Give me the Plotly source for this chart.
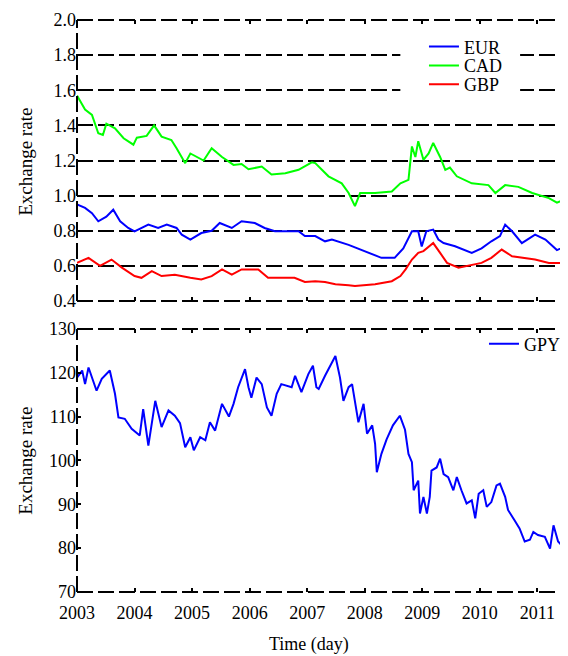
import plotly.graph_objects as go

# ---- data ----
cad_t = [2003.0, 2003.14, 2003.26, 2003.37, 2003.45, 2003.51, 2003.66, 2003.81, 2003.98, 2004.04,
         2004.21, 2004.34, 2004.47, 2004.64, 2004.73, 2004.88, 2004.97, 2005.20, 2005.34, 2005.52,
         2005.72, 2005.86, 2005.98, 2006.21, 2006.38, 2006.62, 2006.85, 2007.08, 2007.14, 2007.31,
         2007.37, 2007.60, 2007.72, 2007.83, 2007.92, 2008.18, 2008.47, 2008.62, 2008.76, 2008.82,
         2008.88, 2008.93, 2009.02, 2009.11, 2009.19, 2009.31, 2009.40, 2009.48, 2009.60, 2009.86,
         2010.15, 2010.27, 2010.44, 2010.67, 2010.91, 2011.20, 2011.34, 2011.48]
cad_v = [1.57, 1.49, 1.46, 1.355, 1.345, 1.41, 1.383, 1.327, 1.29, 1.33,
         1.34, 1.40, 1.336, 1.317, 1.27, 1.185, 1.24, 1.20, 1.27, 1.22,
         1.175, 1.18, 1.15, 1.166, 1.12, 1.128, 1.147, 1.19, 1.185, 1.128,
         1.11, 1.07, 1.015, 0.94, 1.015, 1.015, 1.024, 1.07, 1.09, 1.28,
         1.22, 1.31, 1.204, 1.24, 1.30, 1.22, 1.147, 1.16, 1.11, 1.07,
         1.06, 1.015, 1.06, 1.05, 1.015, 0.986, 0.96, 0.98]

eur_t = [2003.0, 2003.14, 2003.26, 2003.37, 2003.51, 2003.63, 2003.75, 2003.89, 2004.0, 2004.24,
         2004.41, 2004.56, 2004.73, 2004.82, 2004.97, 2005.16, 2005.34, 2005.48, 2005.69, 2005.86,
         2006.09, 2006.26, 2006.44, 2006.67, 2006.85, 2006.96, 2007.14, 2007.31, 2007.43, 2007.72,
         2008.0, 2008.29, 2008.52, 2008.67, 2008.82, 2008.93, 2008.99, 2009.07, 2009.19, 2009.28,
         2009.37, 2009.57, 2009.86, 2010.03, 2010.20, 2010.35, 2010.44, 2010.56, 2010.73, 2010.96,
         2011.14, 2011.34, 2011.48]
eur_v = [0.95, 0.93, 0.90, 0.854, 0.88, 0.92, 0.854, 0.816, 0.797, 0.835,
         0.816, 0.835, 0.816, 0.778, 0.75, 0.787, 0.80, 0.844, 0.816, 0.854,
         0.844, 0.816, 0.797, 0.797, 0.797, 0.77, 0.77, 0.74, 0.75, 0.72,
         0.684, 0.646, 0.646, 0.70, 0.797, 0.797, 0.71, 0.797, 0.807, 0.75,
         0.73, 0.712, 0.674, 0.70, 0.74, 0.77, 0.835, 0.797, 0.73, 0.778,
         0.75, 0.69, 0.71]

gbp_t = [2003.0, 2003.2, 2003.4, 2003.6, 2003.78, 2004.0, 2004.12, 2004.3, 2004.47, 2004.7,
         2004.97, 2005.16, 2005.34, 2005.52, 2005.69, 2005.86, 2006.15, 2006.32, 2006.55, 2006.78,
         2006.96, 2007.14, 2007.31, 2007.49, 2007.72, 2007.83, 2008.18, 2008.47, 2008.62, 2008.71,
         2008.82, 2008.93, 2009.02, 2009.19, 2009.31, 2009.43, 2009.63, 2009.86, 2010.03, 2010.20,
         2010.38, 2010.56, 2010.73, 2010.96, 2011.20, 2011.48]
gbp_v = [0.617, 0.646, 0.60, 0.636, 0.59, 0.542, 0.532, 0.57, 0.542, 0.55,
         0.532, 0.523, 0.542, 0.58, 0.55, 0.58, 0.58, 0.532, 0.532, 0.532,
         0.508, 0.513, 0.508, 0.495, 0.49, 0.485, 0.495, 0.513, 0.542, 0.58,
         0.636, 0.674, 0.684, 0.73, 0.674, 0.617, 0.59, 0.607, 0.617, 0.646,
         0.693, 0.655, 0.646, 0.636, 0.617, 0.617]

jpy_t = [2003.0, 2003.09, 2003.14, 2003.2, 2003.34, 2003.43, 2003.57, 2003.66, 2003.72, 2003.83,
         2003.95, 2004.09, 2004.15, 2004.24, 2004.36, 2004.47, 2004.59, 2004.7, 2004.79, 2004.88,
         2004.97, 2005.03, 2005.14, 2005.23, 2005.31, 2005.4, 2005.52, 2005.64, 2005.72, 2005.80,
         2005.92, 2005.98, 2006.03, 2006.12, 2006.21, 2006.30, 2006.38, 2006.47, 2006.55, 2006.73,
         2006.79, 2006.90, 2007.02, 2007.1, 2007.16, 2007.2, 2007.31, 2007.49, 2007.57, 2007.63,
         2007.72, 2007.78, 2007.89, 2007.98, 2008.04, 2008.13, 2008.18, 2008.21, 2008.29, 2008.38,
         2008.49, 2008.61, 2008.70, 2008.76, 2008.82, 2008.85, 2008.93, 2008.96, 2009.02, 2009.08,
         2009.13, 2009.16, 2009.25, 2009.31, 2009.37, 2009.45, 2009.54, 2009.6, 2009.68, 2009.77,
         2009.86, 2009.92, 2009.98, 2010.06, 2010.12, 2010.2, 2010.29, 2010.35, 2010.44, 2010.49,
         2010.60, 2010.69, 2010.78, 2010.87, 2010.93, 2011.01, 2011.13, 2011.22, 2011.28, 2011.36,
         2011.45, 2011.48]
jpy_v = [118.9, 120.5, 117.4, 121.2, 115.9, 118.6, 120.5, 115.2, 109.8, 109.5,
         107.2, 105.7, 111.7, 103.4, 113.6, 107.6, 111.4, 110.2, 108.5, 103.0,
         105.3, 102.3, 105.3, 104.6, 108.7, 106.8, 112.9, 110.0, 112.9, 116.7,
         120.8, 116.7, 114.3, 118.9, 117.4, 112.1, 110.2, 115.2, 117.4, 116.7,
         119.3, 115.6, 119.7, 121.6, 116.7, 116.3, 119.3, 123.8, 118.9, 113.6,
         116.7, 117.4, 108.7, 112.9, 106.1, 108.0, 103.8, 97.3, 101.5, 104.8,
         108.0, 110.2, 107.0, 101.5, 99.6, 93.2, 95.4, 87.9, 91.7, 87.9,
         91.7, 97.7, 98.4, 100.4, 96.9, 96.2, 93.2, 96.2, 93.2, 90.2,
         90.9, 86.8, 92.4, 93.2, 89.4, 90.5, 94.3, 94.7, 91.7, 88.7,
         86.4, 84.5, 81.5, 81.9, 83.7, 83.0, 82.6, 79.9, 85.2, 81.5,
         80.3, 80.4]

year_ticks = [2003, 2004, 2005, 2006, 2007, 2008, 2009, 2010, 2011]
top_ticks = [0.4, 0.6, 0.8, 1.0, 1.2, 1.4, 1.6, 1.8, 2.0]
bot_ticks = [70, 80, 90, 100, 110, 120, 130]

FONT = "Liberation Serif"
fig = go.Figure()

fig.add_trace(go.Scatter(x=eur_t, y=eur_v, name="EUR", mode="lines",
                         line=dict(color="#0000FF", width=2), xaxis="x", yaxis="y", legend="legend"))
fig.add_trace(go.Scatter(x=cad_t, y=cad_v, name="CAD", mode="lines",
                         line=dict(color="#00FF00", width=2), xaxis="x", yaxis="y", legend="legend3"))
fig.add_trace(go.Scatter(x=gbp_t, y=gbp_v, name="GBP", mode="lines",
                         line=dict(color="#FF0000", width=2), xaxis="x", yaxis="y", legend="legend4"))
fig.add_trace(go.Scatter(x=jpy_t, y=jpy_v, name="GPY", mode="lines",
                         line=dict(color="#0000FF", width=2), xaxis="x2", yaxis="y2", legend="legend2"))

axis_common = dict(ticks="inside", ticklen=4, tickwidth=2, tickcolor="black",
                   showline=False, zeroline=False, mirror="ticks",
                   tickfont=dict(family=FONT, size=18, color="black"))

x_range = [2003, 2011.48]
top_dom = [0.5087, 1.0]
bot_dom = [0.0, 0.46]

leg_common = dict(xanchor="left", yanchor="middle", bgcolor="rgba(0,0,0,0)", borderwidth=0,
                  font=dict(family=FONT, size=18, color="black"))

fig.update_layout(
    width=560, height=648,
    margin=dict(l=69, r=2, t=10, b=64),
    paper_bgcolor="white", plot_bgcolor="white",
    font=dict(family=FONT, size=18, color="black"),
    xaxis=dict(domain=[0, 1], range=x_range, anchor="y", tickvals=year_ticks,
               showticklabels=False, showgrid=False, **axis_common),
    yaxis=dict(domain=top_dom, range=[0.4, 2.0], anchor="x", tickvals=top_ticks,
               tickformat=".1f", showgrid=True, gridcolor="black", gridwidth=1.5,
               griddash="16px,5px", **axis_common),
    xaxis2=dict(domain=[0, 1], range=x_range, anchor="y2", tickvals=year_ticks,
                showticklabels=True, showgrid=False, ticklabelstandoff=8,
                **axis_common),
    yaxis2=dict(domain=bot_dom, range=[70, 130], anchor="x2", tickvals=bot_ticks,
                showgrid=False, **axis_common),
    legend=dict(x=0.711, y=0.953, **leg_common),
    legend3=dict(x=0.711, y=0.920, **leg_common),
    legend4=dict(x=0.711, y=0.887, **leg_common),
    legend2=dict(x=0.834, y=0.4335, **leg_common),
    showlegend=True,
)

# white box behind the top legend (hides the grid lines there, as in the reference)
fig.add_shape(type="rect", xref="paper", yref="paper", x0=0.6626, x1=0.908, y0=0.866, y1=0.979,
              fillcolor="white", line=dict(width=0), layer="above")

# dashed frame around both panels
for yref in ["y domain", "y2 domain"]:
    xref = "x domain" if yref == "y domain" else "x2 domain"
    for (x0, y0, x1, y1) in [(0, 0, 1, 0), (0, 1, 1, 1), (0, 0, 0, 1), (1, 0, 1, 1)]:
        fig.add_shape(type="line", xref=xref, yref=yref, x0=x0, y0=y0, x1=x1, y1=y1,
                      line=dict(color="black", width=2, dash="16px,5px"), layer="above")

# axis titles
fig.add_annotation(text="Exchange rate", xref="paper", yref="paper", x=-0.106, y=0.7526,
                   textangle=-90, showarrow=False, xanchor="center", yanchor="middle",
                   font=dict(family=FONT, size=19))
fig.add_annotation(text="Exchange rate", xref="paper", yref="paper", x=-0.106, y=0.23,
                   textangle=-90, showarrow=False, xanchor="center", yanchor="middle",
                   font=dict(family=FONT, size=19))
fig.add_annotation(text="Time (day)", xref="paper", yref="paper", x=0.476, y=-0.0923,
                   showarrow=False, xanchor="center", yanchor="middle",
                   font=dict(family=FONT, size=18))

fig.write_html("out.html")
